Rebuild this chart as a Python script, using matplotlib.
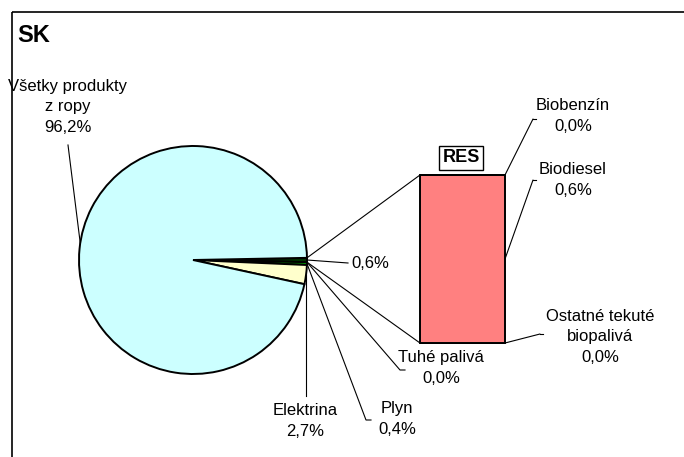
import numpy as np
import matplotlib.pyplot as plt
from matplotlib.patches import Rectangle, ConnectionPatch
plt.rcParams['font.family'] = ['Liberation Sans', 'DejaVu Sans']

# pie: share of energy in transport, SK
pie_names = ['RES', 'Tuhé palivá', 'Plyn', 'Elektrina', 'Všetky produkty\nz ropy']
pie_vals = [0.6, 0.0, 0.4, 2.7, 96.2]
pie_colors = ['#003300', '#000000', '#00A000', '#FFFFCC', '#CCFFFF']

# bar: breakdown of RES (bottom -> top)
bar_names = ['Ostatné tekuté\nbiopalivá', 'Biodiesel', 'Biobenzín']
bar_vals = [0.0, 0.6, 0.0]

def pct(v):
    return ('%.1f%%' % v).replace('.', ',')

W, H = 684, 457
fig = plt.figure(figsize=(W / 100, H / 100), dpi=100)
ax = fig.add_axes([0, 0, 1, 1])

cx, cy, r = 193, 260, 114
tot = sum(pie_vals)
start = -pie_vals[0] / tot * 180  # "other" slice centred at 3 o'clock
wedges, _ = ax.pie(pie_vals, colors=pie_colors, center=(cx, cy), radius=r,
                   startangle=start, counterclock=True,
                   wedgeprops=dict(edgecolor='black', linewidth=1.4))
ax.set_xlim(0, W)
ax.set_ylim(H, 0)  # y down like pixels; angles are mirrored
ax.set_aspect('auto')
ax.axis('off')

# wedge angles (data coords, y down => positive angle goes downward visually)
edges = np.concatenate([[start], start + np.cumsum(pie_vals) / tot * 360])
mids = (edges[:-1] + edges[1:]) / 2

def rim(a, k=1.0):
    a = np.deg2rad(a)
    return cx + k * r * np.cos(a), cy + k * r * np.sin(a)

lab_kw = dict(fontsize=12, ha='center', va='center', linespacing=1.45)
lw = 0.8

# pie labels
x0, y0 = rim(mids[0])
ax.plot([x0, 348], [y0, 263], color='k', lw=lw)
ax.text(351, 263, pct(pie_vals[0]), fontsize=12, ha='left', va='center')

x0, y0 = rim(mids[1])
ax.plot([x0, 400, 405], [y0, 370, 370], color='k', lw=lw)
ax.text(441, 368, pie_names[1] + '\n' + pct(pie_vals[1]), **lab_kw)

x0, y0 = rim(mids[2])
ax.plot([x0, 366, 371], [y0, 420, 420], color='k', lw=lw)
ax.text(397, 419, pie_names[2] + '\n' + pct(pie_vals[2]), **lab_kw)

x0, y0 = rim(mids[3])
ax.plot([x0, x0], [y0, 396], color='k', lw=lw)
ax.text(305, 421, pie_names[3] + '\n' + pct(pie_vals[3]), **lab_kw)

x0, y0 = rim(188.5)
ax.plot([x0, 68], [y0, 145], color='k', lw=lw)
ax.text(68, 107, pie_names[4] + '\n' + pct(pie_vals[4]), **lab_kw)

ax.text(34, 35, 'SK', fontsize=17, fontweight='bold', ha='center', va='center')

# frame (extends past right/bottom edge)
ax.add_patch(Rectangle((12, 12), 700, 470, fill=False, edgecolor='k', lw=1.2))

# bar of RES
bx = fig.add_axes([420 / W, 1 - 343 / H, 85 / W, 168 / H])
bottom = 0.0
for v in bar_vals:
    bx.bar(0, v, bottom=bottom, width=1, color='#FF8080', edgecolor='black',
           linewidth=1.4, clip_on=False)
    bottom += v
bx.set_xlim(-0.5, 0.5)
bx.set_ylim(0, sum(bar_vals))
bx.axis('off')

# connectors pie -> bar
for a, yb in [(edges[0], sum(bar_vals)), (edges[1], 0)]:
    cp = ConnectionPatch(rim(a), (-0.5, yb), 'data', 'data', axesA=ax, axesB=bx,
                         color='k', lw=lw)
    fig.add_artist(cp)

# bar labels
cum = np.concatenate([[0], np.cumsum(bar_vals)])
bar_lab = [((540, 334), (600, 337)), ((533, 180), (573, 180)), ((533, 119), (573, 116))]
for i, ((lx, ly), (tx, ty)) in enumerate(bar_lab):
    yb = (cum[i] + cum[i + 1]) / 2
    cp = ConnectionPatch((0.5, yb), (lx, ly), 'data', 'data', axesA=bx, axesB=ax,
                         color='k', lw=lw)
    fig.add_artist(cp)
    ax.plot([lx, lx + 3], [ly, ly], color='k', lw=lw)
    ax.text(tx, ty, bar_names[i] + '\n' + pct(bar_vals[i]), **lab_kw)

ax.text(461, 158, 'RES', fontsize=13, fontweight='bold', ha='center', va='center',
        bbox=dict(boxstyle='square,pad=0.2', fc='white', ec='black', lw=1))

plt.savefig('out.png', dpi=100)
